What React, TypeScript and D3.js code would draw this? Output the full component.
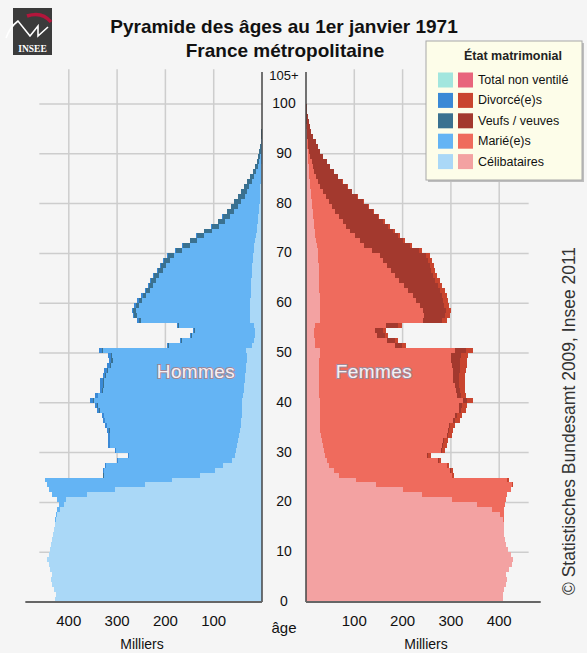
import React from "react";
import * as d3 from "d3";

// ---- Data (thousands), index = age 0..100 ----
const AGES: number[] = d3.range(0, 101);
const AGE_TICKS = [0, 10, 20, 30, 40, 50, 60, 70, 80, 90, 100];
const VALUE_TICKS = [100, 200, 300, 400];
const STATUS_KEYS = ["celib", "maries", "veufs", "divorces"];
const LEGEND_LABELS = ["Total non ventilé", "Divorcé(e)s", "Veufs / veuves", "Marié(e)s", "Célibataires"];

const MEN_CELIB = [
  428, 426, 430, 434, 436, 434, 438, 442, 445, 442,
  438, 436, 434, 432, 430, 428, 427, 424, 418, 410,
  405, 363, 304, 242, 187, 128, 97, 81, 63, 55,
  54, 52, 50, 48, 46, 44, 43, 42, 42, 41,
  41, 40, 38, 37, 36, 35, 34, 33, 32, 32,
  33, 20, 17, 15, 14, 17, 24, 25, 25, 24,
  24, 23, 23, 22, 22, 21, 21, 20, 19, 19,
  17, 16, 14, 13, 11, 10, 9, 8, 7, 6,
  5, 4.4, 3.8, 3.2, 2.6, 2.1, 1.6, 1.2, 0.9, 0.6,
  0.45, 0.33, 0.24, 0.16, 0.1, 0.07, 0.04, 0.03, 0.02, 0.01, 0.01,
];
const MEN_MARIES = [
  0, 0, 0, 0, 0, 0, 0, 0, 0, 0,
  0, 0, 0, 0, 0, 0, 1, 2, 6, 10,
  20, 72, 136, 203.5, 262, 200, 230.6, 242.1, 235.8, 219.6,
  248, 262.5, 264.2, 266.8, 269.4, 276, 281.6, 284.2, 293.8, 298.3,
  307.7, 298.6, 290.6, 290.5, 291.4, 287.3, 285.2, 279.2, 277.1, 278,
  295.3, 171.8, 148.3, 129.7, 123.8, 154.8, 226, 234.4, 235.9, 231.4,
  223.6, 216.2, 208.8, 203.3, 197.8, 192.3, 183.8, 178.2, 171.7, 163.1,
  147.8, 133.5, 120.2, 106.9, 93.1, 79.2, 67.4, 58.5, 50.6, 43.9,
  38.2, 31.8, 27.2, 22.9, 17.8, 13.8, 9.8, 7.3, 4.9, 3.3,
  2.25, 1.57, 1.06, 0.74, 0.45, 0.28, 0.18, 0.1, 0.07, 0.03, 0.03,
];
const MEN_VEUFS = [
  0, 0, 0, 0, 0, 0, 0, 0, 0, 0,
  0, 0, 0, 0, 0, 0, 0, 0, 0, 0,
  0, 0, 0.1, 0.1, 0.1, 0.2, 0.2, 0.3, 0.3, 0.3,
  0.4, 0.5, 0.5, 0.6, 0.7, 0.8, 0.9, 1.0, 1.1, 1.3,
  1.5, 1.6, 1.7, 1.8, 2.0, 2.2, 2.4, 2.6, 2.8, 3.0,
  3.5, 2.2, 2.1, 2.0, 2.0, 2.6, 4.2, 4.8, 5.4, 6.0,
  7.0, 7.6, 8.2, 8.8, 9.5, 10.2, 10.9, 11.6, 12.3, 13.0,
  13.5, 14, 14.5, 15, 15, 15, 15, 15, 15, 14.8,
  14.5, 13.6, 12.8, 11.8, 10.5, 9, 7.5, 6, 4.7, 3.6,
  2.8, 2.1, 1.5, 1.0, 0.65, 0.45, 0.28, 0.17, 0.11, 0.06, 0.06,
];
const MEN_DIVORCES = [
  0, 0, 0, 0, 0, 0, 0, 0, 0, 0,
  0, 0, 0, 0, 0, 0, 0, 0, 0, 0,
  0, 0.1, 0.2, 0.4, 0.7, 0.9, 1.2, 1.6, 1.9, 2.1,
  2.6, 3.0, 3.3, 3.6, 3.9, 4.2, 4.5, 4.8, 5.1, 5.4,
  5.8, 5.8, 5.7, 5.7, 5.6, 5.5, 5.4, 5.2, 5.1, 5.0,
  5.2, 3.0, 2.6, 2.3, 2.2, 2.6, 3.8, 3.8, 3.7, 3.6,
  3.4, 3.2, 3.0, 2.9, 2.7, 2.5, 2.3, 2.2, 2.0, 1.9,
  1.7, 1.5, 1.3, 1.1, 0.9, 0.8, 0.6, 0.5, 0.4, 0.35,
  0.3, 0.25, 0.2, 0.15, 0.12, 0.1, 0.07, 0.05, 0.03, 0.02,
  0, 0, 0, 0, 0, 0, 0, 0, 0, 0, 0,
];

const FEM_CELIB = [
  408, 407, 410, 414, 416, 415, 420, 426, 428, 424,
  418, 415, 412, 410, 410, 409, 407, 402, 385, 355,
  303, 241, 200, 145, 103, 69, 59, 48, 43, 40,
  37, 35, 33, 31, 30, 29, 28, 28, 28, 28,
  28, 27, 27, 27, 27, 27, 27, 27, 27, 28,
  30, 19, 18, 16, 16, 19, 28, 29, 29, 28,
  28, 28, 27, 27, 27, 26, 26, 26, 25, 25,
  24, 22, 20, 19, 18, 17, 16, 15, 14, 13,
  12, 11, 10, 9, 8, 7, 6, 5.2, 4.5, 3.8,
  3.2, 2.6, 2.1, 1.6, 1.2, 0.85, 0.6, 0.38, 0.22, 0.13, 0.08,
];
const FEM_MARIEES = [
  0, 0, 0, 0, 0, 0, 0, 0, 0, 0,
  0, 0, 0, 0, 0, 0, 3, 8, 25, 57,
  110.5, 175.1, 223.4, 280.5, 313.1, 233.4, 239.7, 243, 230.6, 211.5,
  243.1, 247.3, 251.5, 260.5, 263.6, 266.7, 276.6, 279.7, 288.5, 289.4,
  298, 285.9, 282.7, 280.6, 278.3, 276.9, 277.4, 276.2, 274.1, 272.2,
  278, 164.7, 149.2, 131.7, 126.1, 147.6, 214.9, 215.8, 213.9, 207.2,
  199.4, 192.7, 185, 175.4, 165.8, 158.3, 150.7, 142, 135.4, 127.8,
  112, 98.8, 91.3, 82.7, 74, 66.4, 59.8, 53.1, 46.4, 40.7,
  35.1, 29.4, 24.6, 20.8, 17, 13.3, 10.4, 8.3, 7.1, 4.9,
  3.1, 2.45, 1.8, 1.03, 0.55, 0.42, 0.28, 0.21, 0.07, 0.07, 0.02,
];
const FEM_VEUVES = [
  0, 0, 0, 0, 0, 0, 0, 0, 0, 0,
  0, 0, 0, 0, 0, 0, 0, 0, 0, 0,
  0.1, 0.1, 0.2, 0.3, 0.5, 0.8, 0.9, 1.0, 1.1, 1.1,
  1.4, 1.6, 1.9, 2.2, 2.6, 3.1, 3.5, 4.0, 4.6, 5.3,
  6.9, 7.3, 8.3, 9.2, 11.2, 13.2, 14.6, 16.6, 18.6, 21.4,
  24.2, 16.0, 16.2, 15.6, 16.5, 23.8, 38, 42, 46, 51,
  56, 60, 65, 70, 75, 79, 83, 88, 92, 96,
  98, 94, 90, 89, 88, 87, 84, 81, 78, 74,
  71, 65, 60, 55, 50, 46, 41, 36, 31, 27,
  23.5, 19.8, 16, 12.3, 9.2, 6.7, 4.6, 2.9, 1.7, 1.0, 0.6,
];
const FEM_DIVORCEES = [
  0, 0, 0, 0, 0, 0, 0, 0, 0, 0,
  0, 0, 0, 0, 0, 0, 0, 0, 0.05, 0.1,
  0.4, 0.8, 1.4, 2.2, 3.4, 3.8, 4.4, 5.0, 5.3, 5.4,
  6.5, 7.1, 7.6, 8.3, 8.8, 9.2, 9.9, 10.3, 10.9, 11.3,
  12.1, 11.8, 12.0, 12.2, 12.5, 12.9, 13.0, 13.2, 13.3, 13.4,
  13.8, 8.3, 7.6, 6.7, 6.4, 7.6, 11.1, 11.2, 11.1, 10.8,
  10.6, 10.3, 10.0, 9.6, 9.2, 8.7, 8.3, 8.0, 7.6, 7.2,
  6.0, 5.2, 4.7, 4.3, 4.0, 3.6, 3.2, 2.9, 2.6, 2.3,
  1.9, 1.6, 1.4, 1.2, 1.0, 0.7, 0.6, 0.5, 0.4, 0.3,
  0.2, 0.15, 0.1, 0.07, 0.05, 0.03, 0.02, 0.01, 0.01, 0, 0,
];

// ---- Styles ----
const FONT = "'Liberation Sans', Arial, sans-serif";
const BG = "#f5f5f5";
const GRID = "#cdcdcd";
const MEN_COLORS: Record<string, string> = {
  celib: "#aad8f7",
  maries: "#64b4f4",
  veufs: "#3a7190",
  divorces: "#3a89d6",
};
const FEM_COLORS: Record<string, string> = {
  celib: "#f3a2a2",
  maries: "#ef6b5d",
  veufs: "#a3392e",
  divorces: "#c9452f",
};
const LEGEND_MEN = ["#a2e6de", "#3a89d6", "#3a7190", "#64b4f4", "#aad8f7"];
const LEGEND_FEM = ["#e8657c", "#c9452f", "#a3392e", "#ef6b5d", "#f3a2a2"];

export default function App() {
  const W = 587;
  const H = 653;

  const y = d3.scaleLinear().domain([0, 100]).range([602, 104]);
  const xL = d3.scaleLinear().domain([0, 400]).range([262, 68.8]);
  const xR = d3.scaleLinear().domain([0, 400]).range([306, 499.2]);

  const menRows = AGES.map((a) => ({
    age: a,
    celib: MEN_CELIB[a],
    maries: MEN_MARIES[a],
    veufs: MEN_VEUFS[a],
    divorces: MEN_DIVORCES[a],
  }));
  const femRows = AGES.map((a) => ({
    age: a,
    celib: FEM_CELIB[a],
    maries: FEM_MARIEES[a],
    veufs: FEM_VEUVES[a],
    divorces: FEM_DIVORCEES[a],
  }));
  const stack = d3.stack<any>().keys(STATUS_KEYS);
  const menSeries = stack(menRows);
  const femSeries = stack(femRows);

  const gridTop = y(107);
  const leftGridX = xL(461);
  const rightGridX = xR(461);

  return (
    <svg
      width={W}
      height={H}
      style={{ position: "absolute", left: 0, top: 0, background: BG }}
      fontFamily={FONT}
    >
      <rect x={0} y={0} width={W} height={H} fill={BG} />

      {/* horizontal grid */}
      {AGE_TICKS.filter((t) => t > 0).map((t) => (
        <g key={"hg" + t}>
          <line x1={leftGridX} x2={xL(0)} y1={y(t)} y2={y(t)} stroke={GRID} strokeWidth={1.5} />
          <line x1={xR(0)} x2={rightGridX} y1={y(t)} y2={y(t)} stroke={GRID} strokeWidth={1.5} />
        </g>
      ))}
      {/* vertical grid */}
      {VALUE_TICKS.map((v) => (
        <g key={"vg" + v}>
          <line x1={xL(v)} x2={xL(v)} y1={gridTop} y2={y(0)} stroke={GRID} strokeWidth={1.5} />
          <line x1={xR(v)} x2={xR(v)} y1={gridTop} y2={y(0)} stroke={GRID} strokeWidth={1.5} />
        </g>
      ))}

      {/* men bars */}
      <g shapeRendering="crispEdges">
        {menSeries.map((s) => (
          <g key={"m" + s.key} fill={MEN_COLORS[s.key]}>
            {s.map((d: any, i: number) =>
              d[1] - d[0] > 0 ? (
                <rect
                  key={i}
                  x={xL(d[1])}
                  width={xL(d[0]) - xL(d[1])}
                  y={y(AGES[i] + 1)}
                  height={y(AGES[i]) - y(AGES[i] + 1)}
                />
              ) : null
            )}
          </g>
        ))}
      </g>
      {/* women bars */}
      <g shapeRendering="crispEdges">
        {femSeries.map((s) => (
          <g key={"f" + s.key} fill={FEM_COLORS[s.key]}>
            {s.map((d: any, i: number) =>
              d[1] - d[0] > 0 ? (
                <rect
                  key={i}
                  x={xR(d[0])}
                  width={xR(d[1]) - xR(d[0])}
                  y={y(AGES[i] + 1)}
                  height={y(AGES[i]) - y(AGES[i] + 1)}
                />
              ) : null
            )}
          </g>
        ))}
      </g>

      {/* axes lines */}
      <line x1={xL(0)} x2={xL(0)} y1={72} y2={y(0)} stroke="#444" strokeWidth={1.5} />
      <line x1={xR(0)} x2={xR(0)} y1={72} y2={y(0)} stroke="#444" strokeWidth={1.5} />
      <line x1={xL(490)} x2={xL(0)} y1={y(0)} y2={y(0)} stroke="#666" strokeWidth={2} />
      <line x1={xR(0)} x2={xR(486)} y1={y(0)} y2={y(0)} stroke="#666" strokeWidth={2} />

      {/* age labels */}
      {AGE_TICKS.map((t) => (
        <text key={"al" + t} x={284} y={y(t) - 1} textAnchor="middle" dominantBaseline="central" fontSize={14} fill="#111">
          {t}
        </text>
      ))}
      <text x={284} y={y(105) - 4} textAnchor="middle" dominantBaseline="central" fontSize={13} fill="#111">
        105+
      </text>
      <text x={284} y={633} textAnchor="middle" fontSize={15} fill="#111">
        âge
      </text>

      {/* value ticks */}
      {VALUE_TICKS.map((v) => (
        <g key={"vt" + v}>
          <text x={xL(v)} y={626} textAnchor="middle" fontSize={15} fill="#111">
            {v}
          </text>
          <text x={xR(v)} y={626} textAnchor="middle" fontSize={15} fill="#111">
            {v}
          </text>
        </g>
      ))}
      <text x={142} y={649} textAnchor="middle" fontSize={14} fill="#111">
        Milliers
      </text>
      <text x={426} y={649} textAnchor="middle" fontSize={14} fill="#111">
        Milliers
      </text>

      {/* sex labels */}
      <text
        x={196}
        y={378}
        textAnchor="middle"
        fontSize={19}
        fill="#f6f0f4"
        stroke="#a08898"
        strokeWidth={2}
        paintOrder="stroke"
        letterSpacing={0.4}
      >
        Hommes
      </text>
      <text
        x={374}
        y={378}
        textAnchor="middle"
        fontSize={19}
        fill="#f6f0f4"
        stroke="#a08898"
        strokeWidth={2}
        paintOrder="stroke"
        letterSpacing={0.4}
      >
        Femmes
      </text>

      {/* title */}
      <text x={284} y={33} textAnchor="middle" fontSize={19} fontWeight="bold" fill="#111">
        Pyramide des âges au 1er janvier 1971
      </text>
      <text x={285} y={57} textAnchor="middle" fontSize={19} fontWeight="bold" fill="#111">
        France métropolitaine
      </text>

      {/* INSEE logo */}
      <g>
        <rect x={13} y={8} width={39} height={47} fill="#3b3b3b" />
        <path d="M27,16 Q42,11 51,22" stroke="#b3163c" strokeWidth={3.5} fill="none" />
        <path d="M6,38 Q10,27 18,21 L30,36 L38,26 L38,36 L48,27" stroke="#ffffff" strokeWidth={1.6} fill="none" />
        <text x={32.5} y={52} textAnchor="middle" fill="#ffffff" fontSize={9.5} fontWeight="bold" fontFamily="'Liberation Serif', serif">
          INSEE
        </text>
      </g>

      {/* legend */}
      <g>
        <rect x={428} y={43} width={156} height={139} fill="#bdbdbd" />
        <rect x={426} y={41} width={156} height={139} fill="#fdfde9" stroke="#a8a8a8" strokeWidth={1} />
        <text x={513} y={60} textAnchor="middle" fontSize={12.5} fontWeight="bold" fill="#222">
          État matrimonial
        </text>
        {LEGEND_LABELS.map((lab, i) => {
          const cy = 80 + i * 20.4;
          return (
            <g key={"lg" + i}>
              <rect x={438} y={cy - 7.5} width={15} height={15} fill={LEGEND_MEN[i]} />
              <rect x={458} y={cy - 7.5} width={15} height={15} fill={LEGEND_FEM[i]} />
              <text x={478} y={cy} dominantBaseline="central" fontSize={12.5} fill="#111">
                {lab}
              </text>
            </g>
          );
        })}
      </g>

      {/* copyright */}
      <text
        transform="translate(575,421) rotate(-90)"
        textAnchor="middle"
        fontSize={17.5}
        fill="#333"
      >
        © Statistisches Bundesamt 2009, Insee 2011
      </text>
    </svg>
  );
}
